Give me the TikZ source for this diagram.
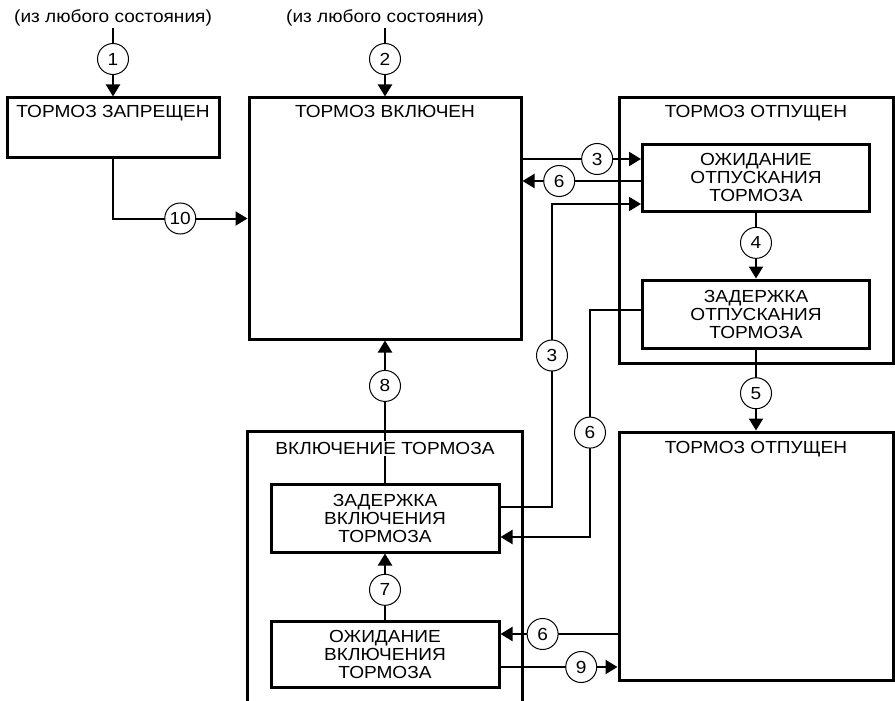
\documentclass[tikz,border=0pt]{standalone}
\usepackage{fontspec}
\setmainfont[FakeStretch=1.09]{Liberation Sans}
\usepackage{tikz}
\usetikzlibrary{arrows.meta}
\newcommand{\diagfont}{\fontsize{17.5pt}{18pt}\selectfont}
\tikzset{
  state/.style={draw,line width=3pt,inner sep=2pt,align=center,font=\diagfont},
  title/.style={anchor=base,inner sep=1.5pt,font=\diagfont},
  num/.style={draw,circle,line width=1pt,fill=white,minimum size=31pt,inner sep=0pt,font=\diagfont},
  trans/.style={line width=2pt,-{Triangle[length=12pt,width=14pt]}},
}

\begin{document}
\begin{tikzpicture}[x=1pt,y=-1pt]
  \useasboundingbox (0,0) rectangle (895,701);
  % states
  \node[state,minimum width=212pt,minimum height=59pt] (zapr) at (113,127.5) {};
  \node[state,minimum width=272pt,minimum height=241pt] (vkl) at (385,218.5) {};
  \node[state,minimum width=274pt,minimum height=265pt] (otp) at (756,230.5) {};
  \node[state,minimum width=227pt,minimum height=67pt] (ozhOtp) at (756,177.5) {ОЖИДАНИЕ\\ОТПУСКАНИЯ\\ТОРМОЗА};
  \node[state,minimum width=227pt,minimum height=68pt] (zadOtp) at (756,314) {ЗАДЕРЖКА\\ОТПУСКАНИЯ\\ТОРМОЗА};
  \node[state,minimum width=274pt,minimum height=248pt] (otpB) at (756,556) {};
  \node[state,minimum width=228pt,minimum height=68pt] (zadVkl) at (385,518) {ЗАДЕРЖКА\\ВКЛЮЧЕНИЯ\\ТОРМОЗА};
  \node[state,minimum width=228pt,minimum height=66pt] (ozhVkl) at (385,654) {ОЖИДАНИЕ\\ВКЛЮЧЕНИЯ\\ТОРМОЗА};
  % open box, cut by the page edge
  \node[minimum width=274pt,minimum height=272pt,inner sep=0pt] (vklT) at (385,568) {};
  \draw[line width=3pt] (vklT.south west) |- (vklT.north) -| (vklT.south east);
  \node[title] (zaprName) at ([yshift=-21pt]zapr.north) {ТОРМОЗ ЗАПРЕЩЕН};
  \node[title] (vklName) at ([yshift=-21pt]vkl.north) {ТОРМОЗ ВКЛЮЧЕН};
  \node[title] (otpName) at ([yshift=-21pt]otp.north) {ТОРМОЗ ОТПУЩЕН};
  \node[title] (otpBName) at ([yshift=-23pt]otpB.north) {ТОРМОЗ ОТПУЩЕН};
  \node[title] (src1) at (113,23) {(из любого состояния)};
  \node[title] (src2) at (385,23) {(из любого состояния)};
  % transitions
  \draw[trans] (src1.south) -- (zapr.north) node[num,pos=0.45]{1};
  \draw[trans] (src2.south) -- (vkl.north) node[num,pos=0.45]{2};
  \draw[trans] (zapr.south) |- (vkl.west) node[num,pos=0.75]{10};
  \draw[trans] (vkl.east |- 0,159) -- (ozhOtp.west |- 0,159) node[num,pos=0.63]{3};
  \draw[trans] (ozhOtp.west |- 0,181) -- (vkl.east |- 0,181) node[num,pos=0.69]{6};
  \draw[trans] (zadVkl.east |- 0,507) -| (552,204) node[num,pos=0.75]{3} -- (ozhOtp.west |- 0,204);
  \draw[trans] (zadOtp.west |- 0,310) -| (590,537) node[num,pos=0.77]{6} -- (zadVkl.east |- 0,537);
  \draw[trans] (ozhOtp.south) -- (zadOtp.north) node[num,pos=0.46]{4};
  \draw[trans] (zadOtp.south) -- (otpB.north) node[num,pos=0.54]{5};
  \draw[trans] (zadVkl.north) -- (vkl.south) node[num,pos=0.68]{8};
  \draw[trans] (ozhVkl.north) -- (zadVkl.south) node[num,pos=0.45]{7};
  \draw[trans] (otpB.west |- 0,634) -- (ozhVkl.east |- 0,634) node[num,pos=0.64]{6};
  \draw[trans] (ozhVkl.east |- 0,667) -- (otpB.west |- 0,667) node[num,pos=0.69]{9};
  \node[title,fill=white] (vklTName) at ([yshift=-23pt]vklT.north) {ВКЛЮЧЕНИЕ ТОРМОЗА};
\end{tikzpicture}
\end{document}
